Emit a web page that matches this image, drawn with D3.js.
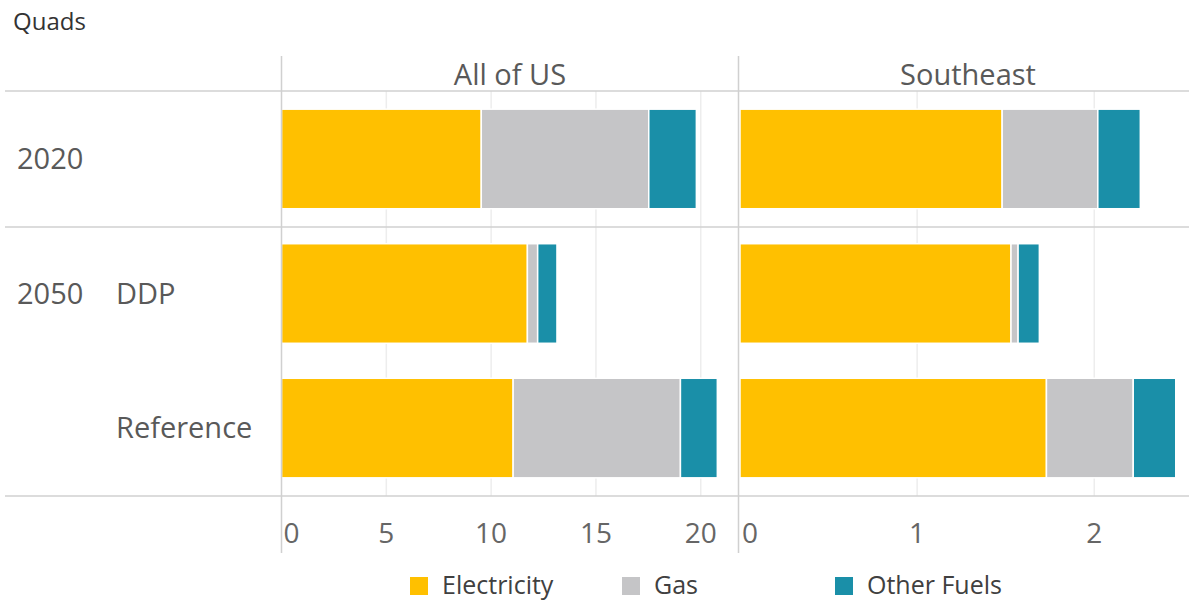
<!DOCTYPE html>
<html><head><meta charset="utf-8">
<script src="https://cdn.jsdelivr.net/npm/d3@7"></script>
<style>body{margin:0;background:#fff;} svg{display:block;}</style>
</head><body>
<svg id="c" width="1189" height="601"></svg>
<script>
const categories = ["2020", "DDP", "Reference"];
const seriesNames = ["Electricity", "Gas", "Other Fuels"];
const panels = ["All of US", "Southeast"];
const usElectricity = [9.53, 11.73, 11.05];
const usGas = [7.99, 0.49, 7.98];
const usOther = [2.27, 0.92, 1.76];
const seElectricity = [1.48, 1.53, 1.73];
const seGas = [0.54, 0.04, 0.49];
const seOther = [0.24, 0.12, 0.24];
const usTicks = [0, 5, 10, 15, 20];
const seTicks = [0, 1, 2];
const colors = ["#FFC000", "#C5C5C7", "#1A8FA8"];

const svg = d3.select("#c");
const font = "'Open Sans', Lato, sans-serif";
const lineCol = "#D0D0D0", gridCol = "#EDEDED", txt = "#595959";

const y = d3.scaleBand().domain(categories).range([91, 496]).paddingInner(0.26).paddingOuter(0.135);

const panelDefs = [
  {name: panels[0], x0: 281.5, x1: 738.5, max: 21.8, ticks: usTicks, data: [usElectricity, usGas, usOther]},
  {name: panels[1], x0: 740, x1: 1197, max: 2.58, ticks: seTicks, data: [seElectricity, seGas, seOther]}
];

panelDefs.forEach(p => {
  const x = d3.scaleLinear().domain([0, p.max]).range([p.x0, p.x1]);
  svg.append("g").selectAll("line").data(p.ticks.filter(t => t > 0)).join("line")
    .attr("x1", d => x(d)).attr("x2", d => x(d)).attr("y1", 91).attr("y2", 496)
    .attr("stroke", gridCol).attr("stroke-width", 1.5);
  const rows = categories.map((c, i) => {
    const o = {cat: c};
    seriesNames.forEach((s, k) => o[s] = p.data[k][i]);
    return o;
  });
  const stack = d3.stack().keys(seriesNames)(rows);
  svg.append("g").selectAll("g").data(stack).join("g")
    .attr("fill", (d, k) => colors[k])
    .selectAll("rect").data(d => d).join("rect")
    .attr("x", d => x(d[0])).attr("width", d => Math.max(0, x(d[1]) - x(d[0])))
    .attr("y", d => y(d.data.cat)).attr("height", y.bandwidth())
    .attr("stroke", "#fff").attr("stroke-width", 1.5);
  svg.append("g").selectAll("text").data(p.ticks).join("text")
    .attr("x", (d, i) => i === 0 ? x(d) + 2 : x(d))
    .attr("y", 543)
    .attr("text-anchor", (d, i) => i === 0 ? "start" : "middle")
    .attr("font-family", font).attr("font-size", 28).attr("fill", "#666")
    .text(d => d);
  svg.append("text").attr("x", (p.x0 + Math.min(p.x1, 1196)) / 2).attr("y", 85)
    .attr("text-anchor", "middle").attr("font-family", font).attr("font-size", 29)
    .attr("fill", txt).text(p.name);
});

[91, 227, 496].forEach(yy => svg.append("line").attr("x1", 5).attr("x2", 1189)
  .attr("y1", yy).attr("y2", yy).attr("stroke", lineCol).attr("stroke-width", 1.5));
[281.5, 738.5].forEach(xx => svg.append("line").attr("x1", xx).attr("x2", xx)
  .attr("y1", 56).attr("y2", 553).attr("stroke", lineCol).attr("stroke-width", 1.5));

const rowLabels = [
  {t: "2020", x: 17, cat: "2020"},
  {t: "2050", x: 17, cat: "DDP"},
  {t: "DDP", x: 116, cat: "DDP"},
  {t: "Reference", x: 116, cat: "Reference"}
];
svg.append("g").selectAll("text").data(rowLabels).join("text")
  .attr("x", d => d.x).attr("y", d => y(d.cat) + y.bandwidth() / 2 + 10)
  .attr("font-family", font).attr("font-size", 29).attr("fill", txt).text(d => d.t);

svg.append("text").attr("x", 13).attr("y", 30).attr("font-family", font)
  .attr("font-size", 24).attr("fill", "#333").text("Quads");

const legX = [410, 622, 835];
const lg = svg.append("g").selectAll("g").data(seriesNames).join("g")
  .attr("transform", (d, i) => `translate(${legX[i]},577)`);
lg.append("rect").attr("width", 18).attr("height", 18).attr("fill", (d, i) => colors[i]);
lg.append("text").attr("x", 32).attr("y", 17).attr("font-family", font)
  .attr("font-size", 25).attr("fill", "#404040").text(d => d);
</script>
</body></html>
